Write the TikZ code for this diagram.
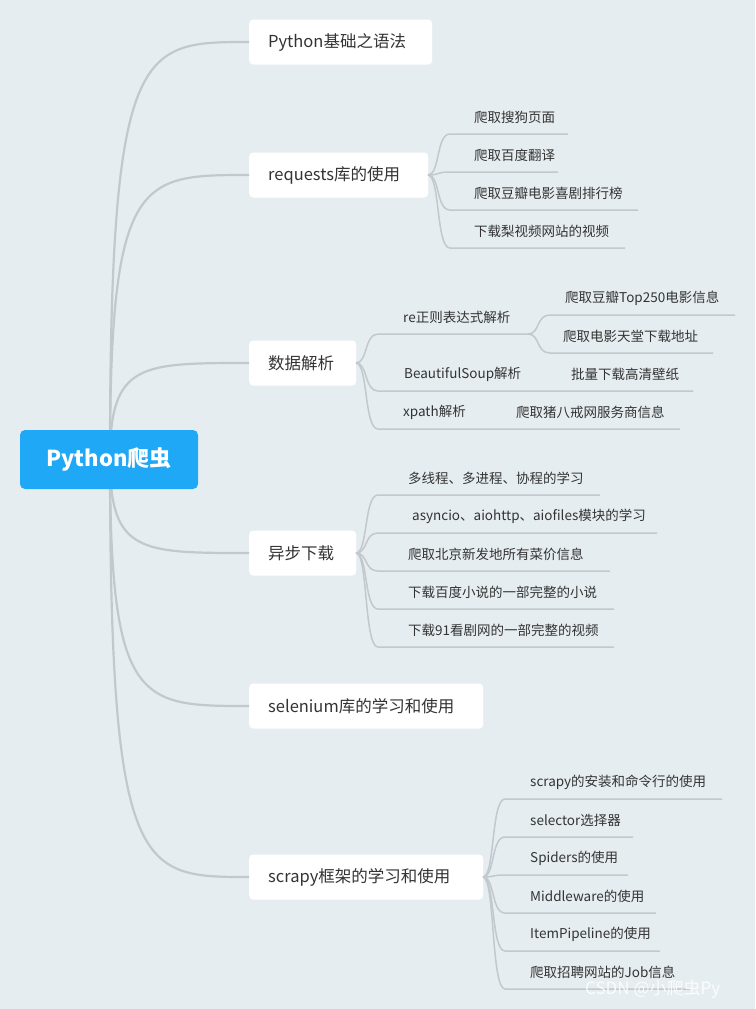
\documentclass[tikz,border=0pt]{standalone}
\usepackage{fontspec}
\setmainfont{Noto Sans CJK SC}
\begin{document}
\begin{tikzpicture}[x=1pt,y=-1pt,
  conn/.style={draw=linegray,line width=2.2pt},
  leafc/.style={draw=linegray,line width=1.5pt},
  branch/.style={fill=white,rounded corners=4pt,anchor=west,inner sep=0pt,font=\fontsize{16.5}{18}\selectfont,text=txt},
  leaf/.style={anchor=west,inner sep=0pt,font=\fontsize{13.5}{15}\selectfont,text=txt}]
\definecolor{bg}{HTML}{E6EDF1}
\definecolor{linegray}{HTML}{C2C8CC}
\definecolor{txt}{HTML}{333333}
\definecolor{rootc}{HTML}{1FA8F6}
\fill[bg] (0,0) rectangle (755,1009);
\useasboundingbox (0,0) rectangle (755,1009);
\newcommand\mybranch[5]{%
 \node[branch,minimum width=#3pt,minimum height=45pt] (#1) at (249,#2) {};
 \node[leaf,font=\fontsize{16.5}{18}\selectfont] (#1t) at (268,#2) {#4};
 \draw[conn] (110,459) .. controls (110,#2) and (140,#2) .. (#1.west);
}
\mybranch{b1}{42}{183}{Python基础之语法}{}
\mybranch{b2}{175}{179}{requests库的使用}{}
\mybranch{b3}{363}{107}{数据解析}{}
\mybranch{b4}{553}{107}{异步下载}{}
\mybranch{b5}{706}{234}{selenium库的学习和使用}{}
\mybranch{b6}{877}{234}{scrapy框架的学习和使用}{}
\node[fill=rootc,rounded corners=5pt,minimum width=178pt,minimum height=59pt,text=white,font=\fontsize{22}{24}\bfseries\selectfont] (root) at (109,459.5) {Python爬虫};
\newcommand\myleaf[7]{%
 \coordinate (#1s) at (#2,#3);
 \coordinate (#1e) at (#6,#4);
 \draw[leafc] (#1s) .. controls (#2+12,#3) and (#2+8,#4) .. (#2+22,#4) -- (#1e);
 \node[leaf] (#1t) at (#5,#4-17) {#7};
}
\myleaf{r1}{428}{175}{134}{474}{568}{爬取搜狗页面}
\myleaf{r2}{428}{175}{172}{474}{558}{爬取百度翻译}
\myleaf{r3}{428}{175}{210}{474}{638}{爬取豆瓣电影喜剧排行榜}
\myleaf{r4}{428}{175}{248}{474}{625}{下载梨视频网站的视频}
\myleaf{d1}{356}{363}{334}{403}{530}{re正则表达式解析}
\myleaf{d2}{356}{363}{391}{404}{693}{BeautifulSoup解析}
\myleaf{d3}{356}{363}{429}{403}{680}{xpath解析}
\node[leaf] (d2b) at (571,374) {批量下载高清壁纸};
\node[leaf] (d3b) at (516,412) {爬取猪八戒网服务商信息};
\myleaf{e1}{528}{334}{315}{565}{735}{爬取豆瓣Top250电影信息}
\myleaf{e2}{528}{334}{353}{563}{713}{爬取电影天堂下载地址}
\myleaf{a1}{356}{553}{495}{408}{600}{多线程、多进程、协程的学习}
\myleaf{a2}{356}{553}{533}{412}{657}{asyncio、aiohttp、aiofiles模块的学习}
\myleaf{a3}{356}{553}{571}{408}{610}{爬取北京新发地所有菜价信息}
\myleaf{a4}{356}{553}{609}{408}{614}{下载百度小说的一部完整的小说}
\myleaf{a5}{356}{553}{647}{408}{614}{下载91看剧网的一部完整的视频}
\myleaf{s1}{483}{877}{799}{530}{722}{scrapy的安装和命令行的使用}
\myleaf{s2}{483}{877}{837}{530}{633}{selector选择器}
\myleaf{s3}{483}{877}{875}{530}{628}{Spiders的使用}
\myleaf{s4}{483}{877}{913}{530}{656}{Middleware的使用}
\myleaf{s5}{483}{877}{951}{530}{660}{ItemPipeline的使用}
\myleaf{s6}{483}{877}{989}{530}{690}{爬取招聘网站的Job信息}
\node[anchor=west,inner sep=0pt,text=white,opacity=0.85,font=\fontsize{17}{18}\selectfont] (wm) at (585,989) {CSDN @小爬虫Py};
\end{tikzpicture}
\end{document}
